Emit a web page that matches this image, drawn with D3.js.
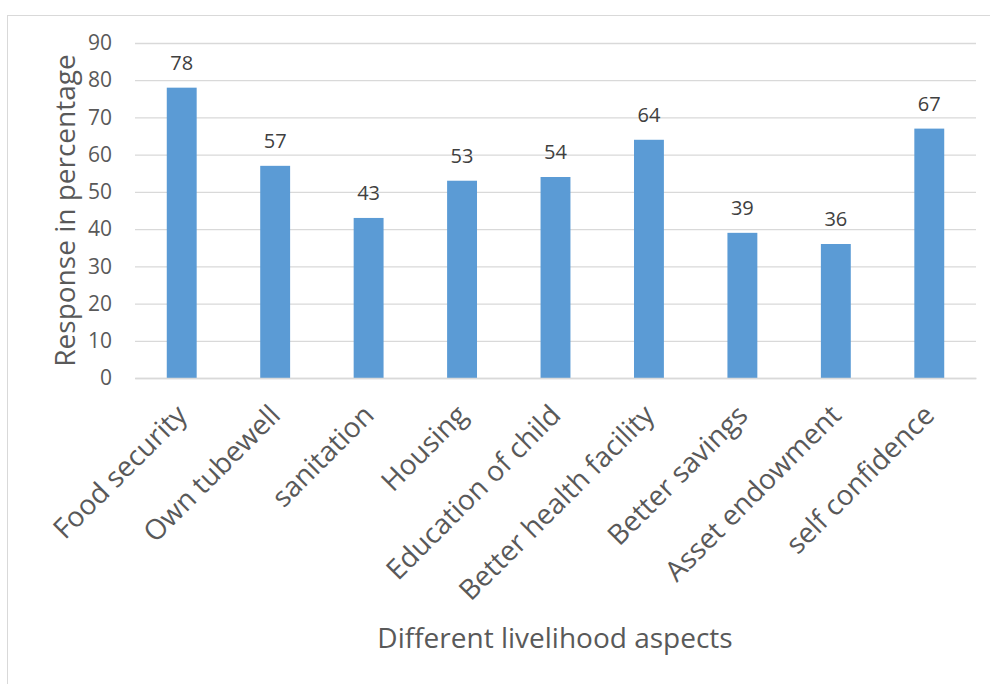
<!DOCTYPE html>
<html><head><meta charset="utf-8">
<script src="https://cdn.jsdelivr.net/npm/d3@7"></script>
<style>body{margin:0;background:#fff}svg{display:block}text{font-family:"Open Sans",sans-serif}</style>
</head><body>
<svg id="c" width="990" height="684"></svg>
<script>
const categories = ["Food security","Own tubewell","sanitation","Housing","Education of child","Better health facility","Better savings","Asset endowment","self confidence"];
const values = [78,57,43,53,54,64,39,36,67];
const yTicks = [0,10,20,30,40,50,60,70,80,90];
const yTitle = "Response in percentage";
const xTitle = "Different livelihood aspects";

const svg = d3.select("#c");
const m = {left:135, right:976, top:43, bottom:378};

svg.append("rect").attr("x",7.5).attr("y",15.5).attr("width",1000).attr("height",700)
  .attr("fill","#fff").attr("stroke","#d9d9d9").attr("stroke-width",1);

const x = d3.scaleBand().domain(categories).range([m.left,m.right]).paddingInner(0.68).paddingOuter(0.34);
const y = d3.scaleLinear().domain([0,90]).range([m.bottom,m.top]);

const gy = svg.append("g").attr("transform",`translate(${m.left},0)`)
  .call(d3.axisLeft(y).tickValues(yTicks).tickSize(-(m.right-m.left)).tickFormat(d=>d).tickPadding(23));
gy.select(".domain").remove();
gy.selectAll(".tick line").attr("stroke","#d9d9d9").attr("stroke-width",1.3);
gy.selectAll(".tick text").attr("fill","#595959").style("font-size","21px");

svg.append("g").selectAll("rect").data(values).join("rect")
  .attr("x",(d,i)=>x(categories[i])).attr("width",x.bandwidth())
  .attr("y",d=>y(d)).attr("height",d=>y(0)-y(d))
  .attr("fill","#5b9bd5");

svg.append("g").selectAll("text").data(values).join("text")
  .attr("x",(d,i)=>x(categories[i])+x.bandwidth()/2).attr("y",d=>y(d)-18)
  .attr("text-anchor","middle").attr("fill","#404040").style("font-size","20px").text(d=>d);

const gx = svg.append("g").attr("transform",`translate(0,${m.bottom})`)
  .call(d3.axisBottom(x).tickSize(0).tickPadding(0));
gx.select(".domain").attr("stroke","#d9d9d9").attr("stroke-width",1.3);
gx.selectAll(".tick text").attr("fill","#595959").style("font-size","28px")
  .attr("text-anchor","end").attr("dy","0.35em")
  .attr("transform","translate(0,32) rotate(-45)");

svg.append("text").attr("transform",`translate(75,${(m.top+m.bottom)/2}) rotate(-90)`)
  .attr("text-anchor","middle").attr("fill","#595959").style("font-size","28px").text(yTitle);
svg.append("text").attr("x",555).attr("y",648).attr("text-anchor","middle")
  .attr("fill","#595959").style("font-size","28px").text(xTitle);
</script>
</body></html>
